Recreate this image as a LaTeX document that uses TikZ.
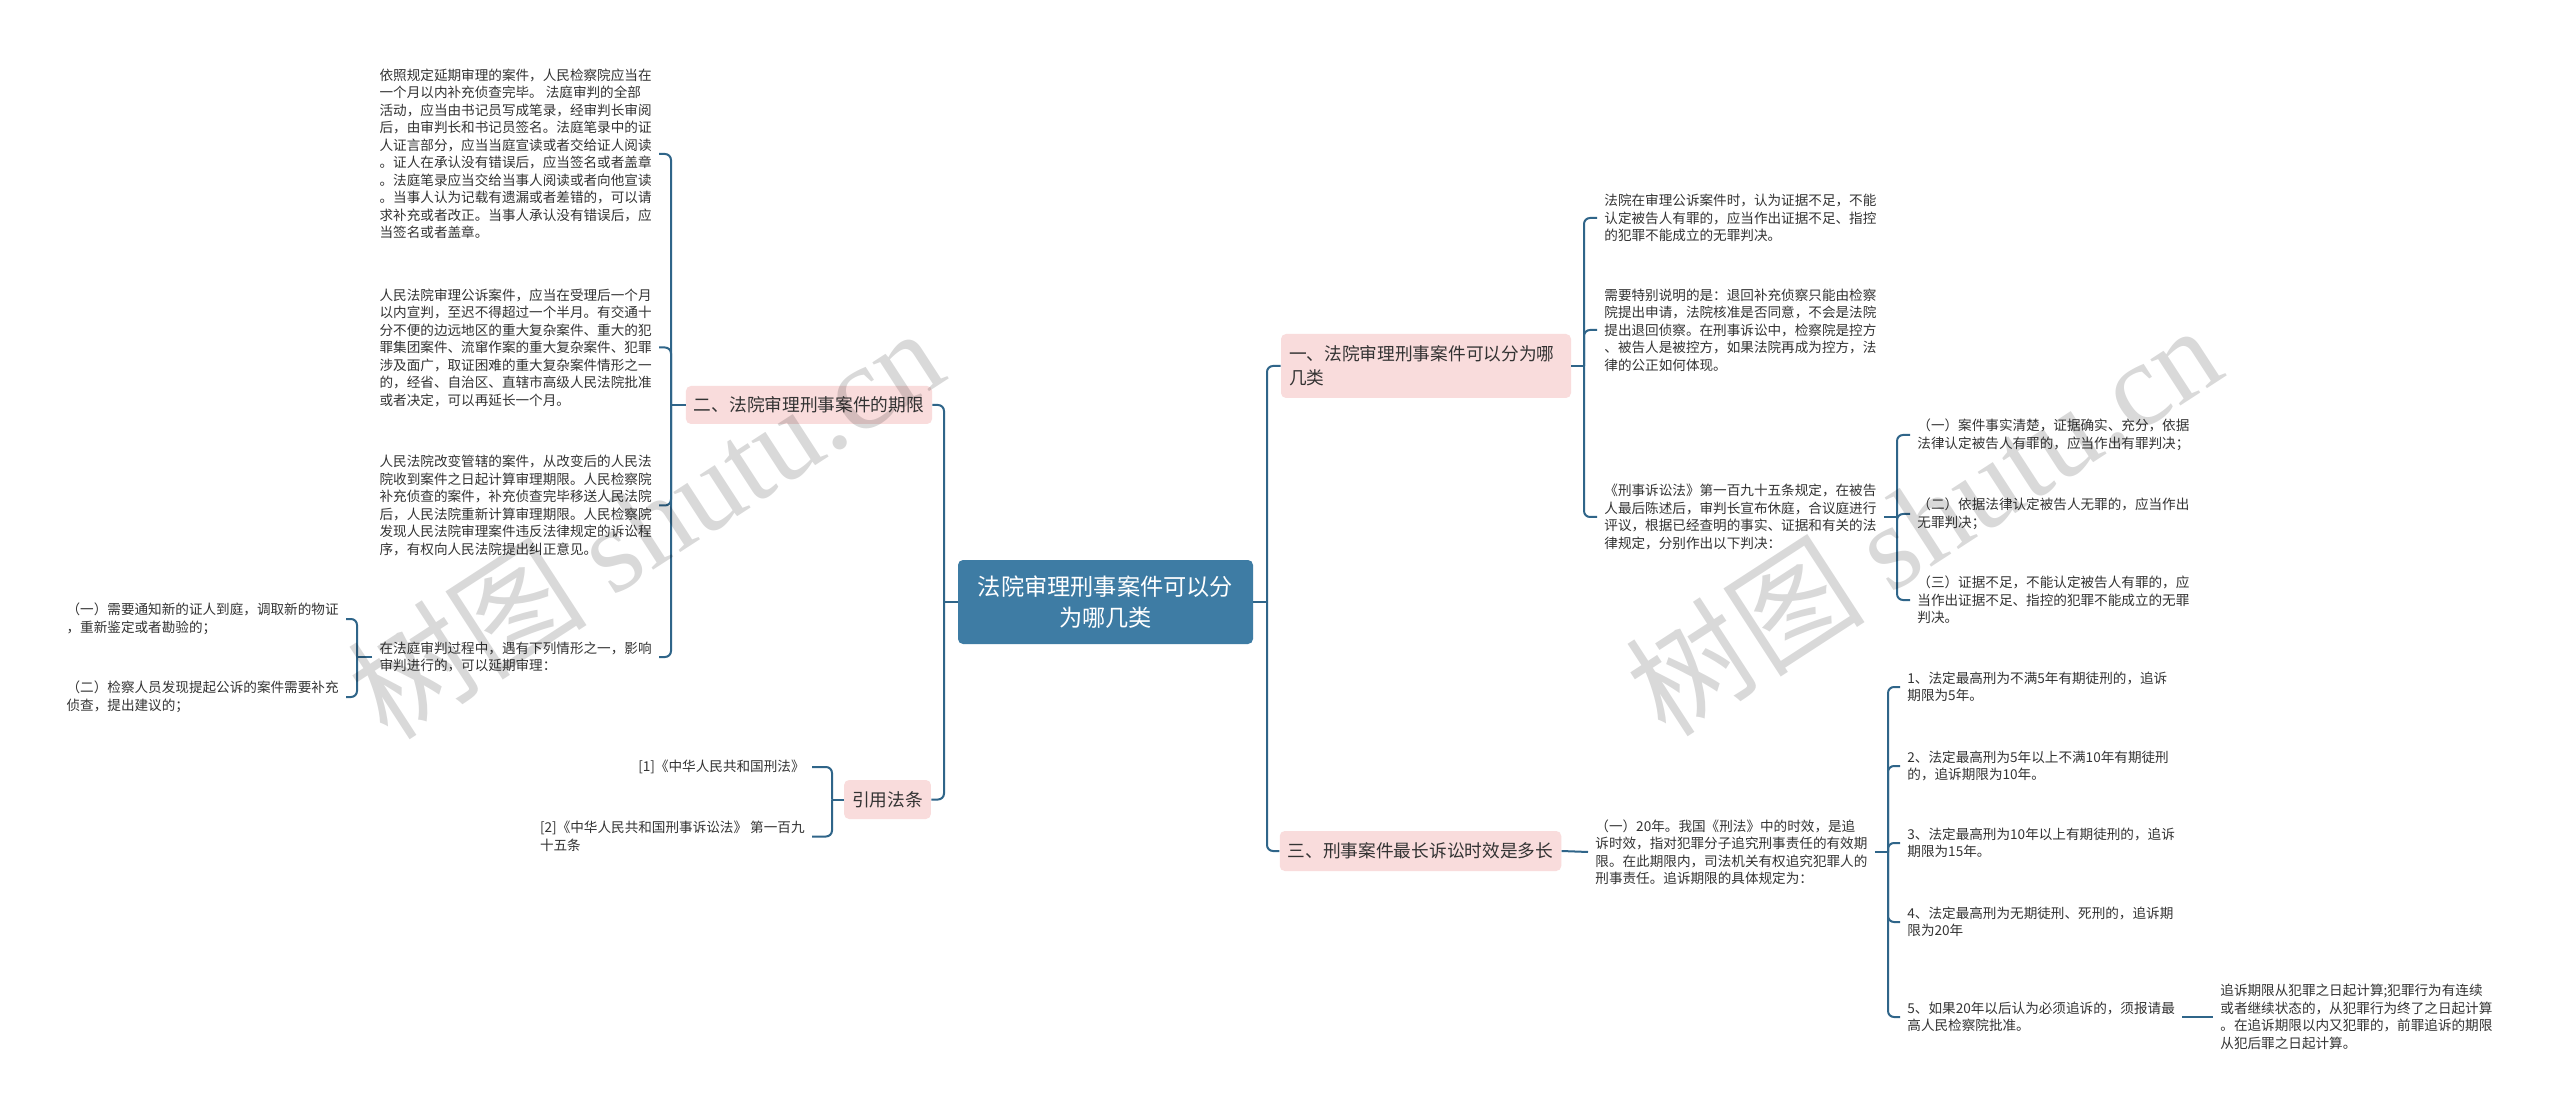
\documentclass[tikz,border=0pt]{standalone}
\usepackage{fontspec}
\setmainfont{Noto Sans CJK SC}
\newfontfamily\wmlatin{Liberation Serif}
\definecolor{rootc}{HTML}{3E7CA4}
\definecolor{pinkc}{HTML}{F9DCDC}
\definecolor{linec}{HTML}{2F6589}
\definecolor{textc}{HTML}{333333}
\begin{document}
\begin{tikzpicture}[x=0.5pt,y=-0.5pt,
  conn/.style={draw=linec,line width=1pt,rounded corners=3pt},
  txt/.style={font=\fontsize{6.8pt}{8.75pt}\selectfont,align=left,inner xsep=3.5pt,inner ysep=0pt,text=textc},
  lvl/.style={fill=pinkc,rounded corners=2.5pt,font=\fontsize{8.85pt}{12pt}\selectfont,inner xsep=4pt,inner ysep=0pt,minimum height=19pt,text=textc,align=left},
  rootbox/.style={fill=rootc,rounded corners=2.5pt,font=\fontsize{11.6pt}{15.5pt}\selectfont,text=white,align=center,text width=128pt,minimum width=147.5pt,minimum height=42pt,inner sep=0pt},
  wmark/.style={rotate=33,text=black,text opacity=0.15,font=\fontsize{60pt}{60pt}\selectfont}
]
\useasboundingbox[fill=white] (0,0) rectangle (2560,1117);

% ---------- root ----------
\node[rootbox] (root) at (1105.5,602) {法院审理刑事案件可以分\\为哪几类};

% ---------- level 1 ----------
\node[lvl,text width=137pt,minimum height=32pt] (n1) at (1426,366) {一、法院审理刑事案件可以分为哪\\几类};
\node[lvl] (n2) at (809,405) {二、法院审理刑事案件的期限};
\node[lvl,minimum height=20pt] (n3) at (1420.5,851) {三、刑事案件最长诉讼时效是多长};
\node[lvl,minimum height=19.5pt] (n4) at (887.5,799.5) {引用法条};

% ---------- branch 1 children ----------
\node[txt,anchor=west] (r1a) at (1597,218) {法院在审理公诉案件时，认为证据不足，不能\\认定被告人有罪的，应当作出证据不足、指控\\的犯罪不能成立的无罪判决。};
\node[txt,anchor=west] (r1b) at (1597,330) {需要特别说明的是：退回补充侦察只能由检察\\院提出申请，法院核准是否同意，不会是法院\\提出退回侦察。在刑事诉讼中，检察院是控方\\、被告人是被控方，如果法院再成为控方，法\\律的公正如何体现。};
\node[txt,anchor=west] (r1c) at (1597,517) {《刑事诉讼法》第一百九十五条规定，在被告\\人最后陈述后，审判长宣布休庭，合议庭进行\\评议，根据已经查明的事实、证据和有关的法\\律规定，分别作出以下判决：};
\node[txt,anchor=west] (r1c1) at (1910,435) {（一）案件事实清楚，证据确实、充分，依据\\法律认定被告人有罪的，应当作出有罪判决；};
\node[txt,anchor=west] (r1c2) at (1910,514) {（二）依据法律认定被告人无罪的，应当作出\\无罪判决；};
\node[txt,anchor=west] (r1c3) at (1910,600) {（三）证据不足，不能认定被告人有罪的，应\\当作出证据不足、指控的犯罪不能成立的无罪\\判决。};

% ---------- branch 3 children ----------
\node[txt,anchor=west] (r3a) at (1588,852) {（一）20年。我国《刑法》中的时效，是追\\诉时效，指对犯罪分子追究刑事责任的有效期\\限。在此期限内，司法机关有权追究犯罪人的\\刑事责任。追诉期限的具体规定为：};
\node[txt,anchor=west] (r3a1) at (1900,687) {1、法定最高刑为不满5年有期徒刑的，追诉\\期限为5年。};
\node[txt,anchor=west] (r3a2) at (1900,766) {2、法定最高刑为5年以上不满10年有期徒刑\\的，追诉期限为10年。};
\node[txt,anchor=west] (r3a3) at (1900,843) {3、法定最高刑为10年以上有期徒刑的，追诉\\期限为15年。};
\node[txt,anchor=west] (r3a4) at (1900,922) {4、法定最高刑为无期徒刑、死刑的，追诉期\\限为20年};
\node[txt,anchor=west] (r3a5) at (1900,1017) {5、如果20年以后认为必须追诉的，须报请最\\高人民检察院批准。};
\node[txt,anchor=west] (r3a5a) at (2213,1017) {追诉期限从犯罪之日起计算;犯罪行为有连续\\或者继续状态的，从犯罪行为终了之日起计算\\。在追诉期限以内又犯罪的，前罪追诉的期限\\从犯后罪之日起计算。};

% ---------- branch 2 children ----------
\node[txt,anchor=east] (l2a) at (659,154) {依照规定延期审理的案件，人民检察院应当在\\一个月以内补充侦查完毕。 法庭审判的全部\\活动，应当由书记员写成笔录，经审判长审阅\\后，由审判长和书记员签名。法庭笔录中的证\\人证言部分，应当当庭宣读或者交给证人阅读\\。证人在承认没有错误后，应当签名或者盖章\\。法庭笔录应当交给当事人阅读或者向他宣读\\。当事人认为记载有遗漏或者差错的，可以请\\求补充或者改正。当事人承认没有错误后，应\\当签名或者盖章。};
\node[txt,anchor=east] (l2b) at (659,347.5) {人民法院审理公诉案件，应当在受理后一个月\\以内宣判，至迟不得超过一个半月。有交通十\\分不便的边远地区的重大复杂案件、重大的犯\\罪集团案件、流窜作案的重大复杂案件、犯罪\\涉及面广，取证困难的重大复杂案件情形之一\\的，经省、自治区、直辖市高级人民法院批准\\或者决定，可以再延长一个月。};
\node[txt,anchor=east] (l2c) at (659,505.5) {人民法院改变管辖的案件，从改变后的人民法\\院收到案件之日起计算审理期限。人民检察院\\补充侦查的案件，补充侦查完毕移送人民法院\\后，人民法院重新计算审理期限。人民检察院\\发现人民法院审理案件违反法律规定的诉讼程\\序，有权向人民法院提出纠正意见。};
\node[txt,anchor=east] (l2d) at (659,657) {在法庭审判过程中，遇有下列情形之一，影响\\审判进行的，可以延期审理：};
\node[txt,anchor=east] (l2d1) at (346,619) {（一）需要通知新的证人到庭，调取新的物证\\，重新鉴定或者勘验的；};
\node[txt,anchor=east] (l2d2) at (346,697) {（二）检察人员发现提起公诉的案件需要补充\\侦查，提出建议的；};

% ---------- branch 4 children ----------
\node[txt,anchor=east,align=right] (l4a) at (812,767) {[1]《中华人民共和国刑法》};
\node[txt,anchor=east] (l4b) at (812,836.5) {[2]《中华人民共和国刑事诉讼法》 第一百九\\十五条};

% ---------- trunk coordinates ----------
\coordinate (tL) at (944,0);
\coordinate (tR) at (1267,0);
\coordinate (t1) at (1584,0);
\coordinate (t1c) at (1897,0);
\coordinate (t2) at (671,0);
\coordinate (t2d) at (357,0);
\coordinate (t4) at (832,0);
\coordinate (t3a) at (1888,0);

% ---------- connectors ----------
\draw[conn] (root.west) -- (root.west -| tL);
\draw[conn] (root.west -| tL) |- (n2.east);
\draw[conn] (root.west -| tL) |- (n4.east);
\draw[conn] (root.east) -- (root.east -| tR);
\draw[conn] (root.east -| tR) |- (n1.west);
\draw[conn] (root.east -| tR) |- (n3.west);

\draw[conn] (n1.east) -- (n1.east -| t1);
\draw[conn] (n1.east -| t1) |- (r1a.west);
\draw[conn] (n1.east -| t1) |- (r1b.west);
\draw[conn] (n1.east -| t1) |- (r1c.west);

\draw[conn] (r1c.east) -- (r1c.east -| t1c);
\draw[conn] (r1c.east -| t1c) |- (r1c1.west);
\draw[conn] (r1c.east -| t1c) |- (r1c2.west);
\draw[conn] (r1c.east -| t1c) |- (r1c3.west);

\draw[conn] (n3.east) -- (r3a.west);
\draw[conn] (r3a.east) -- (r3a.east -| t3a);
\draw[conn] (r3a.east -| t3a) |- (r3a1.west);
\draw[conn] (r3a.east -| t3a) |- (r3a2.west);
\draw[conn] (r3a.east -| t3a) |- (r3a3.west);
\draw[conn] (r3a.east -| t3a) |- (r3a4.west);
\draw[conn] (r3a.east -| t3a) |- (r3a5.west);
\draw[conn] (r3a5.east) -- (r3a5a.west);

\draw[conn] (n2.west) -- (n2.west -| t2);
\draw[conn] (n2.west -| t2) |- (l2a.east);
\draw[conn] (n2.west -| t2) |- (l2b.east);
\draw[conn] (n2.west -| t2) |- (l2c.east);
\draw[conn] (n2.west -| t2) |- (l2d.east);

\draw[conn] (l2d.west) -- (l2d.west -| t2d);
\draw[conn] (l2d.west -| t2d) |- (l2d1.east);
\draw[conn] (l2d.west -| t2d) |- (l2d2.east);

\draw[conn] (n4.west) -- (n4.west -| t4);
\draw[conn] (n4.west -| t4) |- (l4a.east);
\draw[conn] (n4.west -| t4) |- (l4b.east);

% ---------- watermarks ----------
\node[wmark] (wm1) at (645,522) {树图 {\wmlatin shutu.cn}};
\node[wmark] (wm2) at (1923,519) {树图 {\wmlatin shutu.cn}};
\end{tikzpicture}
\end{document}
